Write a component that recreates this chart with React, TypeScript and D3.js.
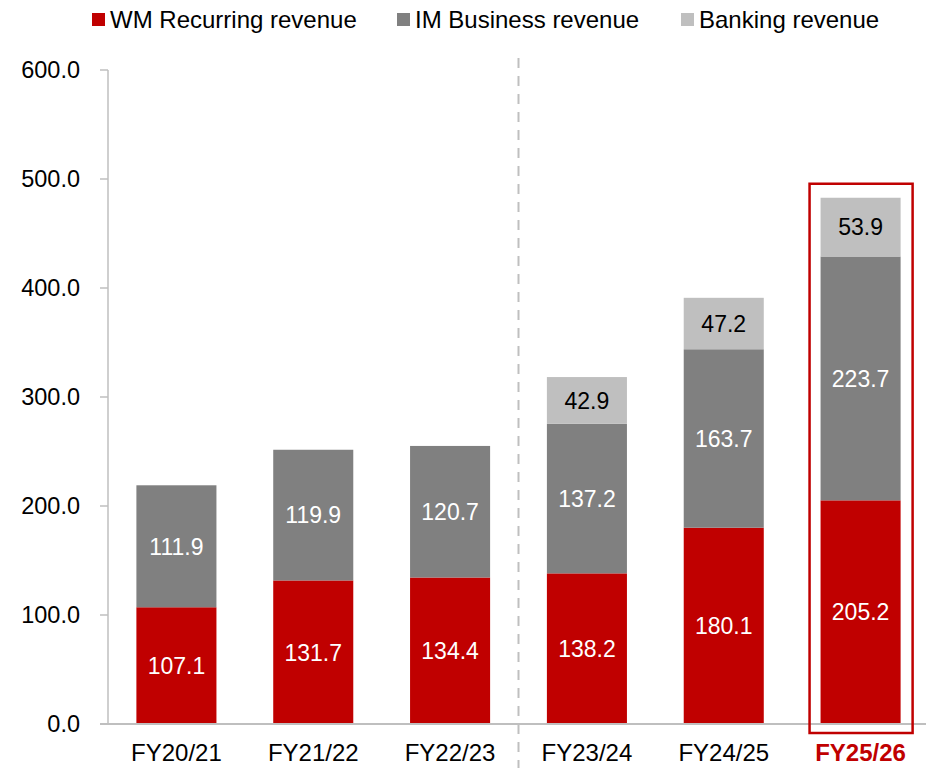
import React from 'react'
import * as d3 from 'd3'

const categories = ['FY20/21', 'FY21/22', 'FY22/23', 'FY23/24', 'FY24/25', 'FY25/26']
const wmRecurring = [107.1, 131.7, 134.4, 138.2, 180.1, 205.2]
const imBusiness = [111.9, 119.9, 120.7, 137.2, 163.7, 223.7]
const banking = [0, 0, 0, 42.9, 47.2, 53.9]
const yTicks = [0, 100, 200, 300, 400, 500, 600]

const seriesNames = ['WM Recurring revenue', 'IM Business revenue', 'Banking revenue']
const seriesColors = ['#c00000', '#808080', '#bfbfbf']
const labelColors = ['#ffffff', '#ffffff', '#000000']
const legendX = [92, 397, 681]

const font = 'Liberation Sans, Arial, sans-serif'

const App = () => {
    const width = 926
    const height = 768
    const x = d3.scaleBand().domain(categories).range([108, 929]).paddingInner(0.415).paddingOuter(0.2075)
    const y = d3.scaleLinear().domain([0, 600]).range([724, 70])

    const rows = categories.map((c, i) => ({ cat: c, wm: wmRecurring[i], im: imBusiness[i], bk: banking[i] }))
    const stacked = d3.stack().keys(['wm', 'im', 'bk'])(rows as any)

    const last = categories[categories.length - 1]
    const lastTop = y(wmRecurring[5] + imBusiness[5] + banking[5])
    const divX = (x(categories[2])! + x.bandwidth() + x(categories[3])!) / 2

    return (
        <svg width={width} height={height} style={{ position: 'absolute', left: 0, top: 0 }} fontFamily={font}>
            {/* legend */}
            {seriesNames.map((n, i) => (
                <g key={n}>
                    <rect x={legendX[i]} y={13} width={13} height={13} fill={seriesColors[i]} />
                    <text x={legendX[i] + 18} y={28} fontSize={24} fill="#000">{n}</text>
                </g>
            ))}

            {/* y axis */}
            <line x1={108} x2={108} y1={y(600)} y2={y(0)} stroke="#bfbfbf" strokeWidth={1.5} />
            {yTicks.map(t => (
                <g key={t}>
                    <line x1={100} x2={108} y1={y(t)} y2={y(t)} stroke="#bfbfbf" strokeWidth={1.5} />
                    <text x={80} y={y(t)} dy="0.36em" textAnchor="end" fontSize={23.5} fill="#000">{t.toFixed(1)}</text>
                </g>
            ))}

            {/* divider */}
            <line x1={divX} x2={divX} y1={58} y2={768} stroke="#bfbfbf" strokeWidth={2} strokeDasharray="10 8" />

            {/* bars */}
            {stacked.map((s, si) => (
                <g key={si}>
                    {s.map((d, i) => {
                        const v = d[1] - d[0]
                        if (v <= 0) return null
                        const cx = x(categories[i])!
                        return (
                            <g key={i}>
                                <rect x={cx} y={y(d[1])} width={x.bandwidth()} height={y(d[0]) - y(d[1])} fill={seriesColors[si]} />
                                <text x={cx + x.bandwidth() / 2} y={(y(d[0]) + y(d[1])) / 2} dy="0.36em" textAnchor="middle" fontSize={23} fill={labelColors[si]}>{v.toFixed(1)}</text>
                            </g>
                        )
                    })}
                </g>
            ))}

            {/* x axis */}
            <line x1={100} x2={926} y1={y(0)} y2={y(0)} stroke="#bfbfbf" strokeWidth={2} />
            {categories.map(c => (
                <text key={c} x={x(c)! + x.bandwidth() / 2} y={761} textAnchor="middle" fontSize={24}
                    fill={c === last ? '#c00000' : '#000'} fontWeight={c === last ? 'bold' : 'normal'}>{c}</text>
            ))}

            {/* highlight box */}
            <rect x={x(last)! - 11} y={lastTop - 14} width={x.bandwidth() + 23} height={y(0) + 9 - (lastTop - 14)}
                fill="none" stroke="#c00000" strokeWidth={2.5} />
        </svg>
    )
}

export default App
